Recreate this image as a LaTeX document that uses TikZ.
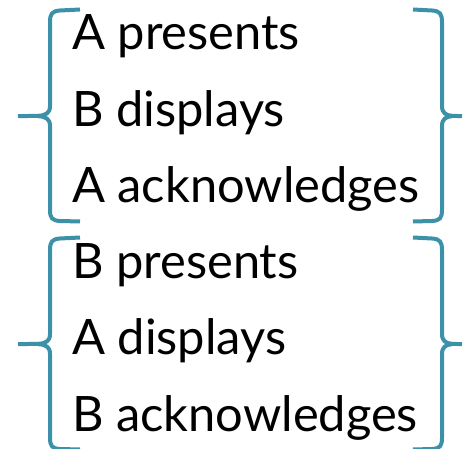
\documentclass[tikz,border=0pt]{standalone}
\usepackage{fontspec}
\setmainfont{Lato}
\definecolor{bracecol}{RGB}{60,145,168}
\tikzset{
  line/.style={anchor=base west, inner sep=0pt, font=\fontsize{48.8}{50}\selectfont},
  bracepath/.style={draw=bracecol, line width=4pt, line join=round},
}
\begin{document}
\begin{tikzpicture}[x=1pt,y=-1pt]
\useasboundingbox (0,0) rectangle (463,449);
% two stacked groups, each closed by a pair of braces
\foreach \dy/\a/\b/\c [count=\g] in {0/A presents/B displays/A acknowledges,
                                     228/B presents/A displays/B acknowledges}{
  \begin{scope}[yshift=-\dy pt]
    \node[line] (t\g1) at (72,50) {\a};
    \node[line] (t\g2) at (72,126.5) {\b};
    \node[line] (t\g3) at (72,203) {\c};
    % left brace
    \draw[bracepath] (80,9.5) -- (60,10.5) .. controls (52,11) and (50,14) .. (50,22)
      -- (50,106) .. controls (50,113) and (46,115.5) .. (38,115.8) -- (18,116.2)
      (38,116.2) .. controls (46,116.5) and (50,119) .. (50,126)
      -- (50,210) .. controls (50,218) and (52,220.5) .. (60,221) -- (80,221.5);
    % right brace
    \draw[bracepath] (413,9.5) -- (432,10.5) .. controls (440,11) and (442,14) .. (442,22)
      -- (442,106) .. controls (442,113) and (446,115.5) .. (452,115.8) -- (462,116.2)
      (452,116.2) .. controls (446,116.5) and (442,119) .. (442,126)
      -- (442,210) .. controls (442,218) and (440,220.5) .. (432,221) -- (413,221.5);
  \end{scope}
}
\end{tikzpicture}
\end{document}
